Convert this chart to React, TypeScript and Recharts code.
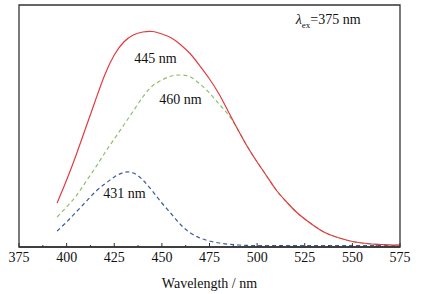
import { LineChart, Line, XAxis, YAxis, ReferenceDot, ReferenceArea } from "recharts";

// emission spectra, intensity in arbitrary units
const wavelengths = [395, 400, 405, 410, 415, 420, 425, 430, 435, 440, 445, 450, 455, 460, 465, 470, 475, 480, 485, 490, 495, 500, 505, 510, 515, 520, 525, 530, 535, 540, 545, 550, 555, 560, 565, 570, 575];
const em445 = [44, 67, 92, 119, 146, 172, 192, 205, 212, 215, 215.5, 213, 209, 202, 193, 181, 168, 153, 135, 117, 100, 85, 71, 57, 46, 36, 28, 21, 15, 11, 8, 5.5, 4, 3, 2.5, 2, 1.8];
const em460 = [30, 40, 51, 65, 79, 94, 108, 122, 136, 150, 161, 167, 171, 172, 170, 163, 154, 143, 132, 117, 100, 85, 71, 57, 46, 36, 28, 21, 15, 11, 8, 5.5, 4, 3, 2.5, 2, 1.8];
const em431 = [16, 25, 35, 45, 55, 63, 70, 74.5, 74, 67, 56, 44, 33, 22, 14, 9, 6, 4, 2.8, 2, 1.6, 1.4, 1.3, 1.3, 1.3, 1.3, 1.3, 1.3, 1.3, 1.3, 1.3, 1.3, 1.3, 1.3, 1.3, 1.3, 1.3];

const xTicks = [375, 387.5, 400, 412.5, 425, 437.5, 450, 462.5, 475, 487.5, 500, 512.5, 525, 537.5, 550, 562.5, 575];

const data = wavelengths.map((wl, i) => ({
  wl,
  a: em445[i],
  b: em460[i],
  c: em431[i],
}));

const FONT = "Times New Roman, Liberation Serif, serif";
const FRAME = "#333";

const XTick = (props: any) => {
  const { x, y, payload } = props;
  const major = payload.value % 25 === 0;
  return (
    <g>
      <line x1={x} x2={x} y1={y} y2={y - (major ? 4 : 2)} stroke={FRAME} strokeWidth={1} />
      {major && (
        <text x={x} y={y + 15} textAnchor="middle" style={{ fontFamily: FONT, fontSize: 14 }} fill="#111">
          {payload.value}
        </text>
      )}
    </g>
  );
};

const PeakLabel = (text: string) => (props: any) => {
  const { viewBox } = props;
  const cx = viewBox.x + (viewBox.width || 0) / 2;
  const cy = viewBox.y + (viewBox.height || 0) / 2;
  return (
    <text x={cx} y={cy + 5} textAnchor="middle" style={{ fontFamily: FONT, fontSize: 14 }} fill="#111">
      {text}
    </text>
  );
};

const ExLabel = (props: any) => {
  const { viewBox } = props;
  const x = viewBox.x + (viewBox.width || 0) / 2;
  const y = viewBox.y + (viewBox.height || 0) / 2;
  return (
    <text x={x} y={y + 5} style={{ fontFamily: FONT, fontSize: 14 }} fill="#111">
      <tspan fontStyle="italic">λ</tspan>
      <tspan fontSize={9} dy={4}>ex</tspan>
      <tspan dy={-4}>=375 nm</tspan>
    </text>
  );
};

const App = () => {
  return (
    <div style={{ position: "absolute", left: 0, top: 0, background: "#fff" }}>
      <LineChart width={423} height={294} data={data} margin={{ top: 5, right: 23, left: 19, bottom: 0 }}>
        <XAxis
          dataKey="wl"
          type="number"
          domain={[375, 575]}
          ticks={xTicks}
          interval={0}
          tick={<XTick />}
          tickLine={false}
          tickSize={0}
          tickMargin={0}
          height={47}
          stroke={FRAME}
          strokeWidth={1.3}
          label={{ value: "Wavelength / nm", position: "insideBottom", offset: 6, style: { fontFamily: FONT, fontSize: 14 }, fill: "#111" }}
        />
        <YAxis type="number" domain={[0, 242]} hide />
        <ReferenceArea x1={375} x2={575} y1={0} y2={242} fill="none" stroke={FRAME} strokeWidth={1.3} />
        <Line dataKey="c" type="natural" stroke="#3d5aa0" strokeWidth={1.2} strokeDasharray="4 3" dot={false} isAnimationActive={false} />
        <Line dataKey="b" type="natural" stroke="#8cbf6a" strokeWidth={1.2} strokeDasharray="4 3" dot={false} isAnimationActive={false} />
        <Line dataKey="a" type="natural" stroke="#e23b40" strokeWidth={1.2} dot={false} isAnimationActive={false} />
        <ReferenceDot x={446.6} y={189} r={0} fill="none" stroke="none" label={PeakLabel("445 nm")} />
        <ReferenceDot x={459.7} y={148} r={0} fill="none" stroke="none" label={PeakLabel("460 nm")} />
        <ReferenceDot x={430.3} y={54} r={0} fill="none" stroke="none" label={PeakLabel("431 nm")} />
        <ReferenceDot x={520.3} y={228} r={0} fill="none" stroke="none" label={ExLabel} />
      </LineChart>
    </div>
  );
};

export default App;
